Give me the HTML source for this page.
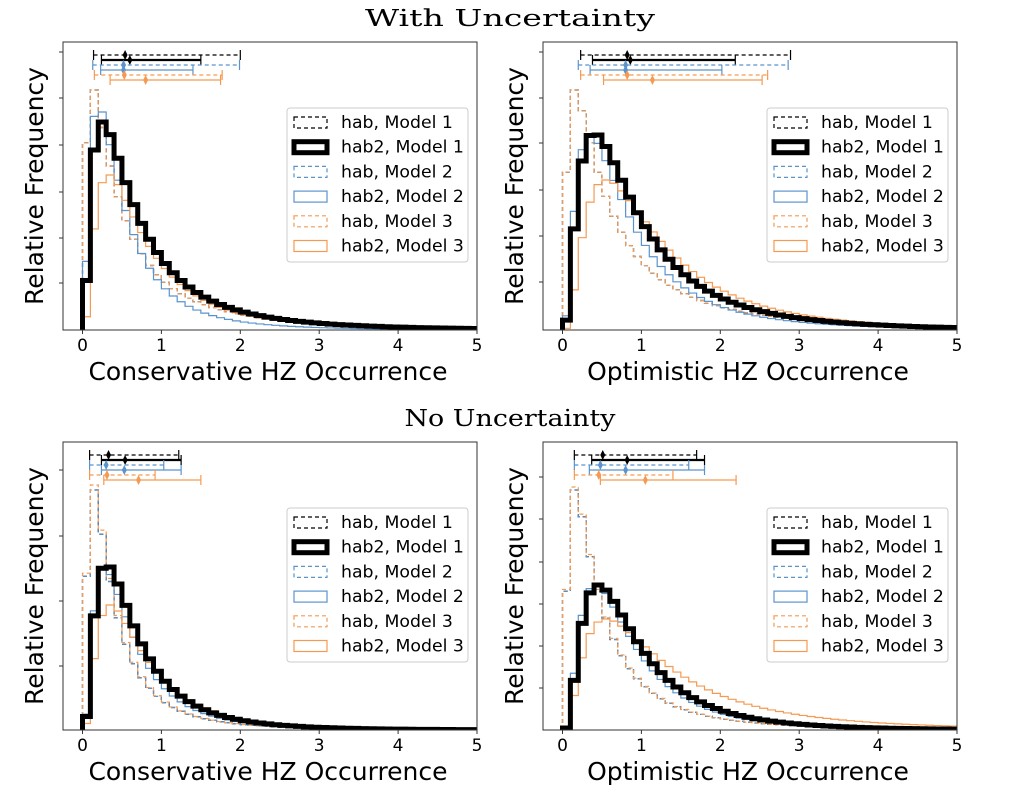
<!DOCTYPE html>
<html><head><meta charset="utf-8"><style>
body{margin:0;background:#fff;width:1024px;height:797px;overflow:hidden}
svg{display:block}
</style></head><body>
<svg id="s" width="1024" height="797" xmlns="http://www.w3.org/2000/svg" font-family="DejaVu Sans, Liberation Sans, sans-serif">
<text x="510" y="26" font-family="DejaVu Serif, Liberation Serif, serif" font-size="23" text-anchor="middle" textLength="290" lengthAdjust="spacingAndGlyphs">With Uncertainty</text>
<text x="510" y="426" font-family="DejaVu Serif, Liberation Serif, serif" font-size="23" text-anchor="middle" textLength="211" lengthAdjust="spacingAndGlyphs">No Uncertainty</text>
</svg>
<script>
const S=document.getElementById('s');const NS='http://www.w3.org/2000/svg';
function el(t,a,txt){const e=document.createElementNS(NS,t);for(const k in a)e.setAttribute(k,a[k]);if(txt!==undefined)e.textContent=txt;S.appendChild(e);return e;}
const BL='#000',BU='#5b93cc',OR='#f59a52';
const styles=[[BL,1.2,'4,3'],[BL,5,null],[BU,1.2,'4,3'],[BU,1.2,null],[OR,1.2,'4,3'],[OR,1.2,null]];
const labels=['hab, Model 1','hab2, Model 1','hab, Model 2','hab2, Model 2','hab, Model 3','hab2, Model 3'];
function lg(x,mode,s){const mu=Math.log(mode)+s*s;const l=Math.log(x);return Math.exp(-l-(l-mu)*(l-mu)/(2*s*s));}
const panels=[
 {L:63,R:477,T:42,B:330,x0:82.5,title:'Conservative HZ Occurrence',ticks:[52,98,145,192,238,283],
  h:[[0.12,1.2,240],[0.25,0.95,208],[0.12,1.2,240],[0.2,0.9,218],[0.12,1.2,240],[0.33,0.85,155]],
  e:[[0.14,2.0,0.54],[0.24,1.5,0.6],[0.13,1.99,0.52],[0.23,1.4,0.52],[0.15,1.77,0.53],[0.35,1.75,0.8]],ey:55},
 {L:543,R:957,T:42,B:330,x0:562.5,title:'Optimistic HZ Occurrence',ticks:[52,98,143,190,236,282],
  h:[[0.15,1.2,240],[0.4,0.85,195],[0.15,1.2,240],[0.35,0.85,195],[0.15,1.2,240],[0.55,0.8,150]],
  e:[[0.23,2.89,0.82],[0.38,2.19,0.86],[0.2,2.86,0.8],[0.35,2.02,0.8],[0.23,2.6,0.82],[0.52,2.53,1.14]],ey:55},
 {L:63,R:477,T:442,B:730,x0:82.5,title:'Conservative HZ Occurrence',ticks:[470,536,601,666],
  h:[[0.13,1.0,240],[0.3,0.8,163],[0.13,1.0,240],[0.28,0.8,160],[0.13,1.0,245],[0.35,0.8,125]],
  e:[[0.09,1.22,0.33],[0.24,1.25,0.54],[0.09,1.03,0.3],[0.24,1.25,0.53],[0.09,0.92,0.31],[0.27,1.5,0.71]],ey:455},
 {L:543,R:957,T:442,B:730,x0:562.5,title:'Optimistic HZ Occurrence',ticks:[477,519,562,604,646,688],
  h:[[0.15,1.05,240],[0.45,0.75,145],[0.15,1.05,240],[0.42,0.75,145],[0.15,1.05,243],[0.55,0.85,111]],
  e:[[0.15,1.7,0.51],[0.37,1.8,0.82],[0.15,1.6,0.48],[0.34,1.8,0.8],[0.15,1.4,0.46],[0.48,2.2,1.05]],ey:455}
];
panels.forEach((p,pi)=>{
 const sc=(p.R-p.x0)/5;const X=v=>p.x0+v*sc;
 const cid='c'+pi;const d=el('clipPath',{id:cid});const r=document.createElementNS(NS,'rect');
 r.setAttribute('x',p.L);r.setAttribute('y',p.T);r.setAttribute('width',p.R-p.L);r.setAttribute('height',p.B-p.T);d.appendChild(r);
 const order=[0,2,4,3,5,1];
 order.forEach(i=>{const [m,s,pk]=p.h[i];let mx=0;const v=[];
  for(let b=0;b<50;b++){const c=b*0.1+0.05;const y=lg(c,m,s);v.push(y);mx=Math.max(mx,y);}
  let path='M'+X(0)+','+p.B;
  v.forEach((y,b)=>{const hh=p.B-y/mx*pk;path+=' L'+X(b*0.1)+','+hh+' L'+X(b*0.1+0.1)+','+hh;});
  path+=' L'+X(5)+','+p.B;
  const st=styles[i];const a={d:path,fill:'none',stroke:st[0],'stroke-width':st[1],'clip-path':'url(#'+cid+')','stroke-linejoin':'miter'};
  if(st[2])a['stroke-dasharray']=st[2];el('path',a);
 });
 p.e.forEach((e,i)=>{const y=p.ey+i*5;const st=styles[i];const w=i==1?2.2:1.3;
  const a={x1:X(e[0]),x2:X(e[1]),y1:y,y2:y,stroke:st[0],'stroke-width':w};if(st[2])a['stroke-dasharray']=st[2];el('line',a);
  [e[0],e[1]].forEach(xx=>el('line',{x1:X(xx),x2:X(xx),y1:y-5,y2:y+5,stroke:st[0],'stroke-width':1.2}));
  const mx=X(e[2]);el('path',{d:`M${mx},${y-5} L${mx+2.5},${y} L${mx},${y+5} L${mx-2.5},${y}Z`,fill:st[0]});
 });
 el('rect',{x:p.L,y:p.T,width:p.R-p.L,height:p.B-p.T,fill:'none',stroke:'#333','stroke-width':1});
 for(let t=0;t<=5;t++){el('line',{x1:X(t),x2:X(t),y1:p.B,y2:p.B+4,stroke:'#333'});
  el('text',{x:X(t),y:p.B+21,'font-size':17,'text-anchor':'middle'},String(t));}
 p.ticks.forEach(t=>el('line',{x1:p.L-4,x2:p.L,y1:t,y2:t,stroke:'#333'}));
 el('text',{x:(p.L+p.R)/2-2,y:p.B+50,'font-size':25,'text-anchor':'middle'},p.title);
 const yc=(p.T+p.B)/2;el('text',{x:0,y:0,'font-size':25,'text-anchor':'middle',transform:`translate(${p.L-20},${yc}) rotate(-90)`},'Relative Frequency');
 const lx=p.L+224,ly=p.T+66;
 el('rect',{x:lx,y:ly,width:181,height:154,fill:'#fff',stroke:'#ccc',rx:3});
 for(let i=0;i<6;i++){const y=ly+14+i*24.7;const st=styles[i];
  const a={x:lx+7,y:y-5,width:33,height:11,fill:'none',stroke:st[0],'stroke-width':st[1]};if(st[2])a['stroke-dasharray']=st[2];el('rect',a);
  el('text',{x:lx+54,y:y+6,'font-size':17.3},labels[i]);}
});
</script>
</body></html>
